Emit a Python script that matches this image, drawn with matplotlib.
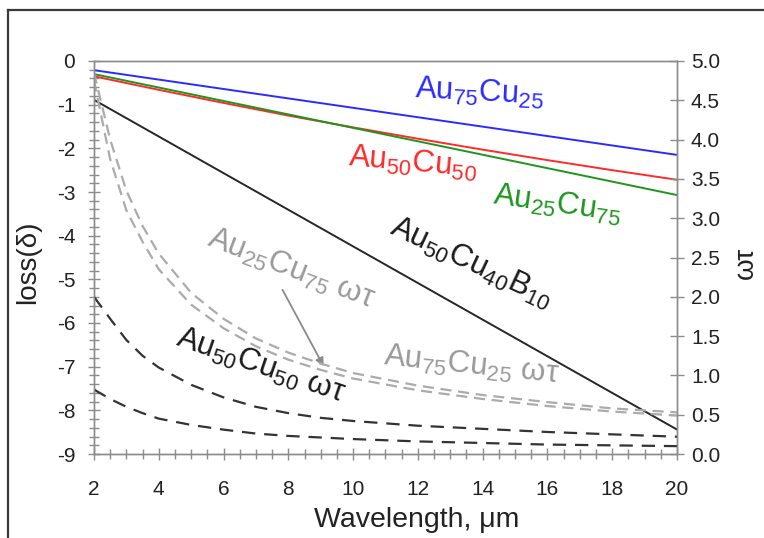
import matplotlib
matplotlib.use("Agg")
import matplotlib.pyplot as plt
from matplotlib.lines import Line2D
from matplotlib.ticker import MultipleLocator, FormatStrFormatter

plt.rcParams['font.family'] = ['Liberation Sans', 'DejaVu Sans']
plt.rcParams['mathtext.fontset'] = 'custom'
plt.rcParams['mathtext.rm'] = 'Liberation Sans'
plt.rcParams['mathtext.it'] = 'Liberation Sans:italic'
plt.rcParams['mathtext.bf'] = 'Liberation Sans:bold'
plt.rcParams['mathtext.default'] = 'regular'
plt.rcParams['axes.unicode_minus'] = False

# loss(delta) curves, left axis
wl_line = [2, 20]
loss_au75cu25 = [-0.21, -2.15]
loss_au25cu75 = [-0.30, -3.07]
loss_au50cu40b10 = [-0.89, -8.44]
wl_red = [2, 4, 6, 8, 10, 12, 14, 16, 18, 20]
loss_au50cu50 = [-0.35, -0.66, -0.96, -1.25, -1.52, -1.78, -2.03, -2.27, -2.50, -2.72]

# omega*tau curves, right axis
wl_wt = [2, 2.5, 3, 3.5, 4, 5, 6, 7, 8, 9, 10, 12, 14, 16, 18, 20]
wt_au75cu25 = [4.85, 4.00, 3.35, 2.90, 2.55, 2.05, 1.72, 1.47, 1.29, 1.15, 1.03, 0.87, 0.75, 0.66, 0.58, 0.53]
wt_au25cu75 = [4.75, 3.75, 3.10, 2.70, 2.35, 1.90, 1.60, 1.37, 1.20, 1.07, 0.96, 0.81, 0.70, 0.61, 0.54, 0.49]
wt_au50cu50 = [2.00, 1.72, 1.45, 1.25, 1.10, 0.88, 0.72, 0.60, 0.52, 0.46, 0.42, 0.36, 0.32, 0.28, 0.25, 0.22]
wt_au50cu40b10 = [0.82, 0.70, 0.60, 0.52, 0.45, 0.37, 0.31, 0.26, 0.23, 0.21, 0.19, 0.16, 0.14, 0.12, 0.11, 0.10]

x_ticks = list(range(2, 21, 2))
y_left_ticks = list(range(-9, 1))
y_right_ticks = [0.0, 0.5, 1.0, 1.5, 2.0, 2.5, 3.0, 3.5, 4.0, 4.5, 5.0]

W, H = 764, 538
fig = plt.figure(figsize=(W / 100, H / 100), dpi=100)
fig.patch.set_facecolor('white')
ax = fig.add_axes([94 / W, 1 - 454 / H, (677 - 94) / W, (454 - 61) / H])
ax2 = ax.twinx()

spine_c = '#8c8c8c'
for a in (ax, ax2):
    for s in a.spines.values():
        s.set_color(spine_c)
        s.set_linewidth(1.0)

# solid loss lines
ax.plot(wl_line, loss_au75cu25, color='#2b2bff', lw=1.4)
ax.plot(wl_red, loss_au50cu50, color='#ff2a2a', lw=1.4)
ax.plot(wl_line, loss_au25cu75, color='#1e961e', lw=1.4)
ax.plot(wl_line, loss_au50cu40b10, color='#262626', lw=1.4)

# dashed omega*tau lines
ax2.plot(wl_wt, wt_au75cu25, color='#ababab', lw=1.6, dashes=(5, 3))
ax2.plot(wl_wt, wt_au25cu75, color='#ababab', lw=1.6, dashes=(5, 3))
ax2.plot(wl_wt, wt_au50cu50, color='#333333', lw=1.6, dashes=(6, 4))
ax2.plot(wl_wt, wt_au50cu40b10, color='#333333', lw=1.6, dashes=(6, 4))

ax.set_xlim(2, 20)
ax.set_ylim(-9, 0)
ax2.set_ylim(0, 5)

ax.set_xticks(x_ticks)
ax.xaxis.set_minor_locator(MultipleLocator(0.5))
ax.set_yticks(y_left_ticks)
ax.yaxis.set_minor_locator(MultipleLocator(0.2))
ax2.set_yticks(y_right_ticks)
ax2.yaxis.set_major_formatter(FormatStrFormatter('%.1f'))

ax.tick_params(axis='x', which='major', direction='inout', length=9, width=1,
               color=spine_c, labelsize=15, pad=14, top=False)
ax.tick_params(axis='x', which='minor', direction='inout', length=7, width=1,
               color=spine_c, top=False)
ax.tick_params(axis='y', which='major', direction='inout', length=9, width=1,
               color=spine_c, labelsize=15, pad=9)
ax.tick_params(axis='y', which='minor', direction='inout', length=7, width=1,
               color=spine_c)
ax2.tick_params(axis='y', which='major', direction='inout', length=10, width=1,
                color=spine_c, labelsize=15, pad=5)
for a in (ax, ax2):
    for lab in a.get_xticklabels() + a.get_yticklabels():
        lab.set_color('#222222')

# axis titles
fig.text(28 / W, 1 - 262 / H, 'loss(δ)', rotation=90, ha='center', va='center',
         fontsize=20, color='#222222')
fig.text(746 / W, 1 - 263 / H, 'ωτ', rotation=90, ha='center', va='center',
         fontsize=20, color='#222222')
fig.text(417 / W, 1 - 520 / H, 'Wavelength, μm', ha='center', va='center',
         fontsize=20.5, color='#222222')

# curve labels
fs = 22.5
ax.text(13.9, -0.74, r'Au$_{75}$Cu$_{25}$', color='#2b2bff', fontsize=fs,
        ha='center', va='center', rotation=-3)
ax.text(11.85, -2.35, r'Au$_{50}$Cu$_{50}$', color='#ff2a2a', fontsize=fs,
        ha='center', va='center', rotation=-5)
ax.text(16.3, -3.3, r'Au$_{25}$Cu$_{75}$', color='#1e961e', fontsize=fs,
        ha='center', va='center', rotation=-8)
ax.text(13.64, -4.62, r'Au$_{50}$Cu$_{40}$B$_{10}$', color='#1a1a1a', fontsize=fs,
        ha='center', va='center', rotation=-25)
ax.text(8.07, -4.76, r'Au$_{25}$Cu$_{75}$ ωτ', color='#9a9a9a', fontsize=fs,
        ha='center', va='center', rotation=-21)
ax.text(7.14, -6.98, r'Au$_{50}$Cu$_{50}$ ωτ', color='#1a1a1a', fontsize=fs,
        ha='center', va='center', rotation=-19)
ax.text(13.64, -6.98, r'Au$_{75}$Cu$_{25}$ ωτ', color='#9a9a9a', fontsize=fs,
        ha='center', va='center', rotation=-6)

ax.annotate('', xy=(9.09, -6.99), xytext=(7.82, -5.24),
            arrowprops=dict(arrowstyle='-|>', color='#8a8a8a', lw=1.3,
                            mutation_scale=12, shrinkA=0, shrinkB=0))

# outer frame (top and left edges)
fig.add_artist(Line2D([8 / W, 8 / W], [0, 1 - 10 / H], transform=fig.transFigure,
                      color='#3a3a3a', lw=1.6))
fig.add_artist(Line2D([8 / W, 1], [1 - 10 / H, 1 - 10 / H], transform=fig.transFigure,
                      color='#3a3a3a', lw=1.6))

fig.savefig('out.png', dpi=100)
